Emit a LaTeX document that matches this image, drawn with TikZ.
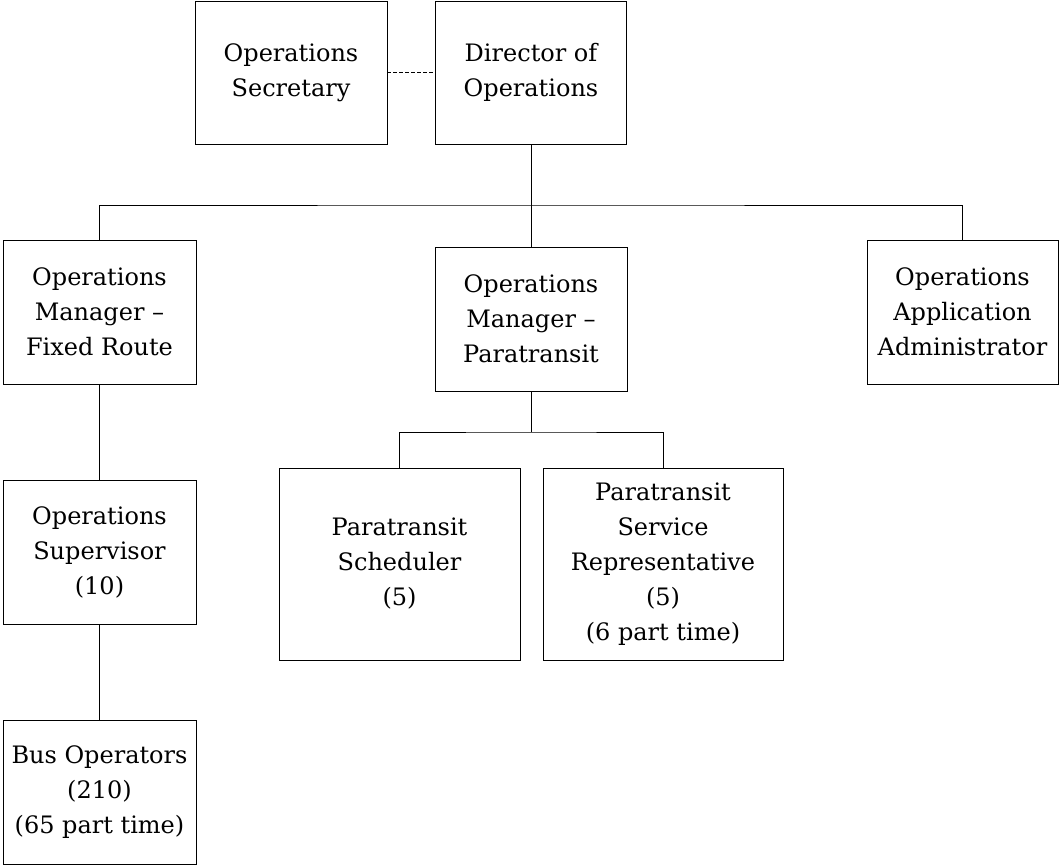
\documentclass[tikz,border=0pt]{standalone}
\usepackage{fontspec}
\setmainfont{DejaVu Serif}
\begin{document}
\begin{tikzpicture}[x=1pt,y=-1pt,
  unit/.style={draw, line width=1pt, align=center, inner sep=0pt, outer sep=0pt,
    font=\fontsize{24}{35}\selectfont},
  link/.style={line width=1pt},
  staff/.style={line width=0.9pt, dash pattern=on 3.5pt off 2.5pt}]
\useasboundingbox (0,0) rectangle (1060,865);

% top level
\node[unit, minimum width=192pt, minimum height=143pt] (sec) at (291,72.5) {Operations\\Secretary};
\node[unit, minimum width=191pt, minimum height=143pt] (dir) at (531,72.5) {Director of\\Operations};

% managers
\node[unit, minimum width=193pt, minimum height=144pt] (fr) at (99.5,312) {Operations\\Manager --\\Fixed Route};
\node[unit, minimum width=192pt, minimum height=144pt] (pm) at (531,319) {Operations\\Manager --\\Paratransit};
\node[unit, minimum width=191pt, minimum height=144pt] (aa) at (962.5,312) {Operations\\Application\\Administrator};

% fixed route chain
\node[unit, minimum width=193pt, minimum height=144pt] (sup) at (99.5,552) {Operations\\Supervisor\\(10)};
\node[unit, minimum width=193pt, minimum height=144pt] (bus) at (99.5,792) {Bus Operators\\(210)\\(65 part time)};

% paratransit staff
\node[unit, minimum width=241pt, minimum height=192pt] (sch) at (399.5,564) {Paratransit\\Scheduler\\(5)};
\node[unit, minimum width=240pt, minimum height=192pt] (rep) at (663,564) {Paratransit\\Service\\Representative\\(5)\\(6 part time)};

% junction points of the branch bars
\coordinate (j1) at (531,205);
\coordinate (j2) at (531,432);

% connectors
\draw[staff] (sec.east) -- (dir.west);
\draw[link] (dir.south) -- (j1);
\draw[link] (fr.north) |- (j1) -| (aa.north);
\draw[link] (pm.north) -- (j1);
\draw[link] (fr.south) -- (sup.north);
\draw[link] (sup.south) -- (bus.north);
\draw[link] (pm.south) -- (j2);
\draw[link] (sch.north) |- (j2) -| (rep.north);
\end{tikzpicture}
\end{document}
